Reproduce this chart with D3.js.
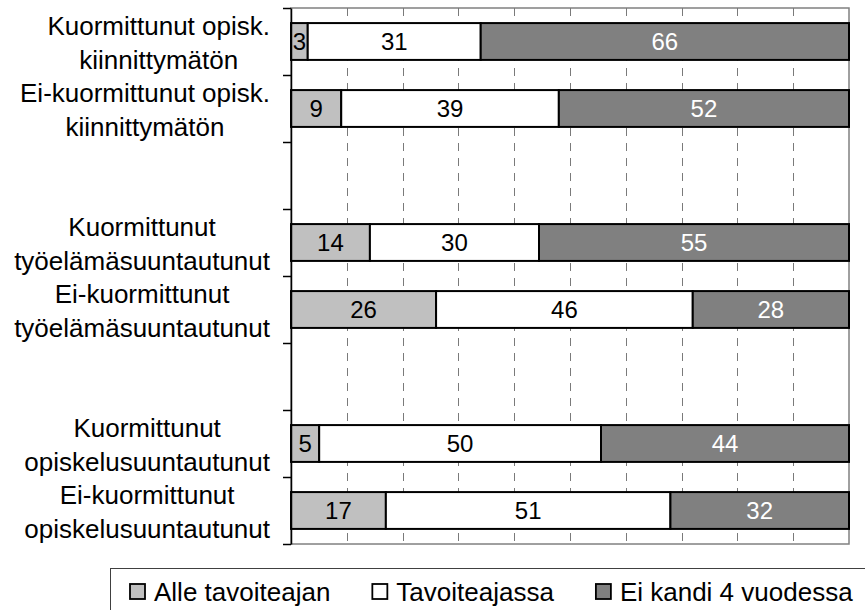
<!DOCTYPE html>
<html>
<head>
<meta charset="utf-8">
<script src="https://cdn.jsdelivr.net/npm/d3@7"></script>
<style>
  html, body { margin: 0; padding: 0; background: #fff; }
  svg { display: block; font-family: "Liberation Sans", Arial, sans-serif; }
</style>
</head>
<body>
<svg id="chart" width="865" height="610"></svg>
<script>
// Row labels (line breaks as separate strings); empty rows are spacer slots
const rowLabels = [
  ["Kuormittunut opisk.", "kiinnittymätön"],
  ["Ei-kuormittunut opisk.", "kiinnittymätön"],
  [],
  ["Kuormittunut", "työelämäsuuntautunut"],
  ["Ei-kuormittunut", "työelämäsuuntautunut"],
  [],
  ["Kuormittunut", "opiskelusuuntautunut"],
  ["Ei-kuormittunut", "opiskelusuuntautunut"]
];
const seriesNames = ["Alle tavoiteajan", "Tavoiteajassa", "Ei kandi 4 vuodessa"];
const alleTavoiteajan = [3, 9, null, 14, 26, null, 5, 17];
const tavoiteajassa   = [31, 39, null, 30, 46, null, 50, 51];
const eiKandi         = [66, 52, null, 55, 28, null, 44, 32];
const gridTicks = [0.1, 0.2, 0.3, 0.4, 0.5, 0.6, 0.7, 0.8, 0.9];

const fills = ["#c0c0c0", "#ffffff", "#808080"];
const labelColors = ["#000000", "#000000", "#ffffff"];

const svg = d3.select("#chart");
const plot = { left: 291, right: 849, top: 8, bottom: 544 };

const rows = rowLabels.map((lab, i) => ({
  key: "r" + i,
  label: lab,
  empty: alleTavoiteajan[i] == null,
  a: alleTavoiteajan[i] || 0,
  t: tavoiteajassa[i] || 0,
  e: eiKandi[i] || 0
}));

const x = d3.scaleLinear().domain([0, 1]).range([plot.left, plot.right]);
const y = d3.scaleBand()
  .domain(rows.map(r => r.key))
  .range([plot.top, plot.bottom])
  .paddingInner(0.45)
  .paddingOuter(0.225);
const yEdge = d3.scaleLinear().domain([0, rows.length]).range([plot.top, plot.bottom]);

// 100 % stacked layout
const stack = d3.stack().keys(["a", "t", "e"]).offset(d3.stackOffsetExpand);
const filled = rows.filter(r => !r.empty);
const layers = stack(filled);

// Plot frame (top / right / bottom) in grey
svg.append("rect")
  .attr("x", plot.left).attr("y", plot.top)
  .attr("width", plot.right - plot.left).attr("height", plot.bottom - plot.top)
  .attr("fill", "none").attr("stroke", "#808080").attr("stroke-width", 1.5);

// Dashed vertical gridlines
svg.append("g")
  .selectAll("line")
  .data(gridTicks)
  .join("line")
  .attr("x1", d => Math.round(x(d)) + 0.5).attr("x2", d => Math.round(x(d)) + 0.5)
  .attr("y1", plot.top).attr("y2", plot.bottom)
  .attr("stroke", "#7a7a7a").attr("stroke-width", 1)
  .attr("stroke-dasharray", "8,7");

// Stacked bar segments
const segG = svg.append("g");
layers.forEach((layer, li) => {
  segG.append("g")
    .selectAll("rect")
    .data(layer)
    .join("rect")
    .attr("x", d => x(d[0]))
    .attr("y", d => y(d.data.key))
    .attr("width", d => x(d[1]) - x(d[0]))
    .attr("height", y.bandwidth())
    .attr("fill", fills[li])
    .attr("stroke", "#000")
    .attr("stroke-width", 2);
});

// Value labels
layers.forEach((layer, li) => {
  segG.append("g")
    .selectAll("text")
    .data(layer)
    .join("text")
    .attr("x", d => (x(d[0]) + x(d[1])) / 2)
    .attr("y", d => y(d.data.key) + y.bandwidth() / 2)
    .attr("dy", "0.36em")
    .attr("text-anchor", "middle")
    .attr("font-size", 24)
    .attr("fill", labelColors[li])
    .text(d => d.data[layer.key]);
});

// Left category axis with ticks between categories
const axis = d3.axisLeft(yEdge)
  .tickValues(d3.range(rows.length + 1))
  .tickFormat("")
  .tickSize(8)
  .tickSizeOuter(0);
const axG = svg.append("g")
  .attr("transform", `translate(${plot.left},0)`)
  .call(axis);
axG.select(".domain").attr("stroke", "#000").attr("stroke-width", 1.5);
axG.selectAll(".tick line").attr("stroke", "#000").attr("stroke-width", 1.5);

// Category labels: block right-aligned, lines centred within the block
const labelRight = 270;
const lineGap = 33.5;
rows.forEach(r => {
  if (!r.label.length) return;
  const cy = y(r.key) + y.bandwidth() / 2 + 1;
  const g = svg.append("g");
  const texts = r.label.map((line, k) =>
    g.append("text")
      .attr("y", cy + (k - (r.label.length - 1) / 2) * lineGap)
      .attr("dy", "0.36em")
      .attr("text-anchor", "middle")
      .attr("font-size", 26)
      .attr("fill", "#000")
      .text(line)
  );
  const maxW = d3.max(texts, t => t.node().getComputedTextLength());
  texts.forEach(t => t.attr("x", labelRight - maxW / 2));
});

// Legend
const legG = svg.append("g");
legG.append("rect")
  .attr("x", 110.5).attr("y", 568.5)
  .attr("width", 800).attr("height", 80)
  .attr("fill", "#fff").attr("stroke", "#404040").attr("stroke-width", 1);
let lx = 130;
const ly = 592;
seriesNames.forEach((name, i) => {
  legG.append("rect")
    .attr("x", lx).attr("y", ly - 8)
    .attr("width", 15).attr("height", 15)
    .attr("fill", fills[i]).attr("stroke", "#000").attr("stroke-width", 1.8);
  const t = legG.append("text")
    .attr("x", lx + 24).attr("y", ly)
    .attr("dy", "0.36em")
    .attr("font-size", 26)
    .attr("fill", "#000")
    .text(name);
  lx += 24 + t.node().getComputedTextLength() + 42;
});
</script>
</body>
</html>
